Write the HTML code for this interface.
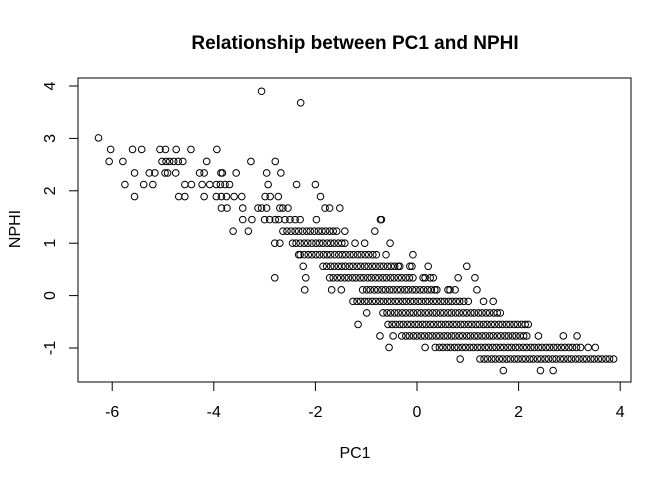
<!DOCTYPE html>
<html><head><meta charset="utf-8"><style>
html,body{margin:0;padding:0;background:#fff;}
svg{display:block;font-family:"Liberation Sans",Arial,sans-serif;}
</style></head><body>
<svg id="chart" width="672" height="480" viewBox="0 0 672 480" xmlns="http://www.w3.org/2000/svg">
<rect x="0" y="0" width="672" height="480" fill="#fff"/>
<text x="355" y="49" text-anchor="middle" font-size="19" font-weight="bold">Relationship between PC1 and NPHI</text>
<text x="355" y="458" text-anchor="middle" font-size="16">PC1</text>
<text transform="translate(20,229) rotate(-90)" text-anchor="middle" font-size="16">NPHI</text>
<g id="ticks"></g>
<g id="points"></g>
<rect x="78" y="78" width="553" height="304" fill="none" stroke="#000" stroke-width="1"/>
</svg>
<script>
const xTicks = [-6, -4, -2, 0, 2, 4];
const yTicks = [-1, 0, 1, 2, 3, 4];
const rowLevels = [3.90, 3.68, 3.01, 2.79, 2.56, 2.34, 2.12, 1.89, 1.67, 1.45, 1.23, 1.00, 0.78, 0.56, 0.34, 0.11, -0.11, -0.33, -0.55, -0.77, -0.99, -1.21, -1.43];
const rowPoints = [
 [-3.06],
 [-2.29],
 [-6.27],
 [-6.03,-5.6,-5.42,-5.06,-4.95,-4.74,-4.45,-3.94],
 [-6.06,-5.79,-5.02,-4.94,-4.87,-4.79,-4.7,-4.61,-4.14,-3.27,-2.79],
 [-5.56,-5.27,-5.16,-4.96,-4.91,-4.75,-4.28,-4.19,-3.86,-3.83,-3.56,-2.96,-2.68],
 [-5.75,-5.38,-5.2,-4.57,-4.44,-4.23,-4.08,-3.95,-3.87,-3.78,-3.69,-2.93,-2.37,-2.0],
 [-5.56,-4.69,-4.57,-4.19,-3.95,-3.85,-3.75,-3.6,-3.45,-2.99,-2.89,-2.73,-1.9],
 [-3.85,-3.74,-3.43,-3.13,-3.06,-2.96,-2.7,-2.64,-2.54,-1.81,-1.72,-1.52],
 [-3.43,-3.25,-3.0,-2.9,-2.79,-2.72,-2.6,-2.5,-2.4,-2.3,-1.98,-0.72,-0.7],
 [-3.62,-3.32,-2.64,-2.56,-2.48,-2.4,-2.33,-2.25,-2.17,-2.1,-2.02,-1.94,-1.87,-1.8,-1.72,-1.65,-1.58,-1.42,-0.83],
 [-2.8,-2.7,-2.45,-2.38,-2.3,-2.22,-2.15,-2.07,-1.99,-1.92,-1.85,-1.77,-1.7,-1.63,-1.55,-1.48,-1.42,-1.22,-1.03,-0.53],
 [-2.33,-2.3,-2.22,-2.14,-2.07,-1.99,-1.92,-1.84,-1.77,-1.7,-1.62,-1.54,-1.47,-1.4,-1.32,-1.25,-1.17,-1.1,-1.02,-0.95,-0.87,-0.8,-0.61,-0.08],
 [-2.24,-1.85,-1.78,-1.7,-1.63,-1.55,-1.48,-1.41,-1.33,-1.26,-1.18,-1.11,-1.03,-0.96,-0.88,-0.81,-0.73,-0.66,-0.58,-0.51,-0.44,-0.37,-0.34,-0.14,-0.1,0.22,0.98],
 [-2.8,-2.19,-1.72,-1.65,-1.57,-1.5,-1.42,-1.35,-1.27,-1.2,-1.12,-1.05,-0.97,-0.9,-0.82,-0.75,-0.67,-0.6,-0.52,-0.45,-0.37,-0.3,-0.22,-0.15,-0.08,0.12,0.16,0.26,0.32,0.81,1.14],
 [-2.21,-1.68,-1.49,-1.07,-0.99,-0.92,-0.84,-0.77,-0.69,-0.62,-0.54,-0.47,-0.39,-0.32,-0.24,-0.17,-0.09,-0.02,0.06,0.13,0.21,0.28,0.35,0.39,0.61,0.65,0.75,1.18],
 [-1.26,-1.18,-1.11,-1.03,-0.96,-0.88,-0.81,-0.73,-0.66,-0.58,-0.51,-0.43,-0.36,-0.28,-0.21,-0.13,-0.06,0.02,0.09,0.17,0.24,0.32,0.39,0.47,0.54,0.62,0.69,0.77,0.84,0.92,1.01,1.31,1.5],
 [-0.99,-0.67,-0.59,-0.52,-0.44,-0.37,-0.29,-0.22,-0.14,-0.07,0.01,0.08,0.16,0.23,0.31,0.38,0.46,0.53,0.61,0.68,0.76,0.83,0.91,0.98,1.06,1.13,1.21,1.28,1.36,1.43,1.51,1.58,1.64],
 [-1.16,-0.57,-0.49,-0.42,-0.34,-0.27,-0.19,-0.12,-0.04,0.03,0.11,0.18,0.26,0.33,0.41,0.48,0.56,0.63,0.71,0.78,0.86,0.93,1.01,1.08,1.16,1.23,1.31,1.38,1.46,1.53,1.61,1.68,1.76,1.83,1.91,1.98,2.06,2.13,2.19],
 [-0.73,-0.47,-0.3,-0.22,-0.15,-0.07,0.0,0.08,0.15,0.23,0.3,0.38,0.45,0.53,0.6,0.68,0.75,0.83,0.9,0.98,1.05,1.13,1.2,1.28,1.35,1.43,1.5,1.58,1.65,1.73,1.8,1.88,1.95,2.03,2.1,2.16,2.39,2.88,3.15],
 [-0.55,0.16,0.36,0.44,0.51,0.59,0.66,0.74,0.81,0.89,0.96,1.04,1.11,1.19,1.26,1.34,1.41,1.49,1.56,1.64,1.71,1.79,1.86,1.94,2.01,2.09,2.16,2.24,2.31,2.39,2.46,2.54,2.61,2.69,2.76,2.84,2.91,2.99,3.06,3.14,3.22,3.37,3.51],
 [0.85,1.24,1.32,1.39,1.47,1.54,1.62,1.69,1.77,1.84,1.92,1.99,2.07,2.14,2.22,2.29,2.37,2.44,2.52,2.59,2.67,2.74,2.82,2.89,2.97,3.04,3.12,3.19,3.27,3.34,3.42,3.49,3.57,3.64,3.72,3.79,3.87],
 [1.7, 2.43, 2.68]
];

const NS = "http://www.w3.org/2000/svg";
const xScale = v => 417 + v * 50.8;
const yScale = v => 295.6 - v * 52.4;
const tg = document.getElementById('ticks');
const pg = document.getElementById('points');

xTicks.forEach(t => {
  const l = document.createElementNS(NS, 'line');
  l.setAttribute('x1', xScale(t)); l.setAttribute('x2', xScale(t));
  l.setAttribute('y1', 382); l.setAttribute('y2', 391);
  l.setAttribute('stroke', '#000');
  
  
  tg.appendChild(l);
  const tx = document.createElementNS(NS, 'text');
  tx.setAttribute('x', xScale(t)); tx.setAttribute('y', 417);
  tx.setAttribute('text-anchor', 'middle'); tx.setAttribute('font-size', '16');
  tx.textContent = t;
  
  
  tg.appendChild(tx);
});
yTicks.forEach(t => {
  const l = document.createElementNS(NS, 'line');
  l.setAttribute('x1', 69); l.setAttribute('x2', 78);
  l.setAttribute('y1', yScale(t)); l.setAttribute('y2', yScale(t));
  l.setAttribute('stroke', '#000');
  
  
  tg.appendChild(l);
  const tx = document.createElementNS(NS, 'text');
  tx.setAttribute('transform', 'translate(55,' + yScale(t) + ') rotate(-90)');
  tx.setAttribute('text-anchor', 'middle'); tx.setAttribute('font-size', '16');
  tx.textContent = t;
  
  
  tg.appendChild(tx);
});
rowLevels.forEach((lvl, i) => {
  rowPoints[i].forEach(v => {
    const c = document.createElementNS(NS, 'circle');
    c.setAttribute('cx', xScale(v)); c.setAttribute('cy', yScale(lvl));
    c.setAttribute('r', 3.3); c.setAttribute('fill', 'none');
    c.setAttribute('stroke', '#000'); c.setAttribute('stroke-width', '1');
    
    
    pg.appendChild(c);
  });
});
</script>
</body></html>
